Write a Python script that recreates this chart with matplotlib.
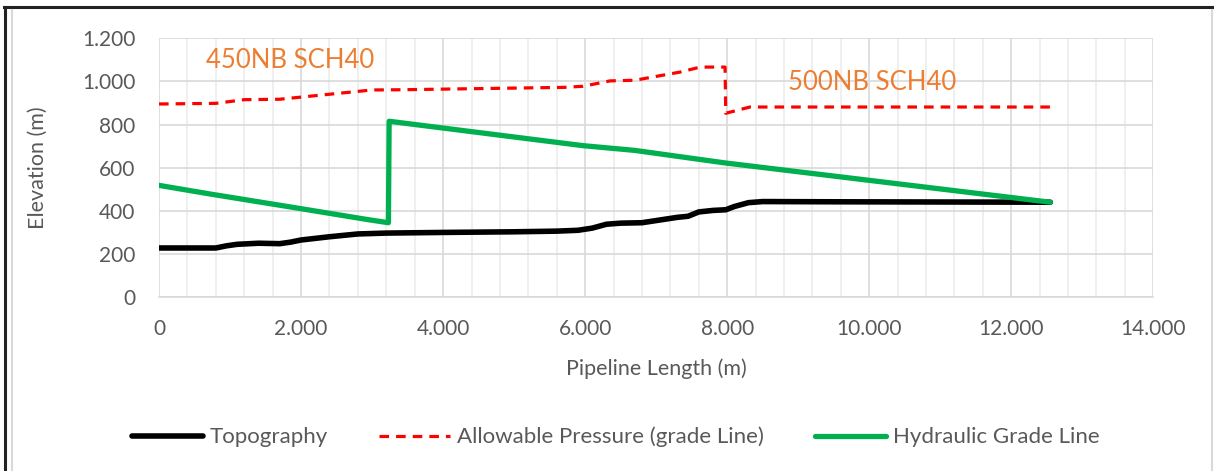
import matplotlib
matplotlib.use("Agg")
import matplotlib.pyplot as plt
from matplotlib.ticker import FuncFormatter, MultipleLocator
from matplotlib.lines import Line2D

plt.rcParams['font.family'] = ['Lato', 'DejaVu Sans']

# Topography
topo_x = [0, 800, 950, 1100, 1400, 1700, 1850, 2000, 2400, 2800, 3200, 4000, 5000, 5600, 5900,
          6100, 6300, 6500, 6800, 7000, 7300, 7450, 7600, 7800, 7980, 8100, 8300, 8500, 9500, 12550]
topo_y = [228, 228, 238, 245, 250, 248, 255, 265, 280, 293, 297, 300, 303, 306, 310,
          320, 338, 343, 345, 355, 370, 375, 395, 402, 405, 420, 438, 443, 442, 440]

# Allowable pressure (grade line)
allow_x = [0, 800, 1200, 1700, 3000, 3410, 5700, 5970, 6350, 6700, 7340, 7620, 7970, 7980, 8320, 12550]
allow_y = [895, 898, 915, 917, 960, 961, 972, 977, 1002, 1005, 1043, 1066, 1066, 852, 881, 881]

# Hydraulic grade line
hgl_x = [0, 720, 1700, 2000, 2930, 3230, 3240, 5970, 6700, 7970, 12550]
hgl_y = [518, 478, 426, 410, 360, 345, 815, 702, 680, 622, 440]

tick_fmt = FuncFormatter(lambda v, p: "{:,.0f}".format(v).replace(",", "."))
grey = "#595959"

fig = plt.figure(figsize=(12.14, 4.71), dpi=100)
ax = fig.add_axes([0.131, 0.369, 0.819, 0.550])

ax.plot(topo_x, topo_y, color="black", lw=4, label="Topography", solid_capstyle="round")
ax.plot(allow_x, allow_y, color="#ff0000", lw=2.3, ls=(0, (3, 2.2)), label="Allowable Pressure (grade Line)")
ax.plot(hgl_x, hgl_y, color="#00b050", lw=3.8, label="Hydraulic Grade Line", solid_capstyle="round")

ax.set_xlim(0, 14000)
ax.set_ylim(0, 1200)
ax.xaxis.set_major_locator(MultipleLocator(2000))
ax.xaxis.set_minor_locator(MultipleLocator(400))
ax.yaxis.set_major_locator(MultipleLocator(200))
ax.xaxis.set_major_formatter(tick_fmt)
ax.yaxis.set_major_formatter(tick_fmt)
ax.grid(True, which="major", axis="both", color="#d9d9d9", lw=1.2)
ax.grid(True, which="minor", axis="x", color="#ececec", lw=1.2)
ax.set_axisbelow(True)
for s in ["top", "right", "left"]:
    ax.spines[s].set_visible(False)
ax.spines["bottom"].set_color("#d9d9d9")
ax.spines["bottom"].set_linewidth(1.2)
ax.tick_params(which="both", length=0, labelsize=15, colors=grey)
ax.tick_params(axis="y", pad=17)
ax.tick_params(axis="x", pad=16)

ax.set_xlabel("Pipeline Length (m)", fontsize=15.5, color=grey)
ax.set_ylabel("Elevation (m)", fontsize=15.5, color=grey)
ax.xaxis.set_label_coords(0.5, -0.235)
ax.yaxis.set_label_coords(-0.112, 0.5)

ax.text(1845, 1097, "450NB SCH40", color="#ed7d31", fontsize=18.5, ha="center", va="center")
ax.text(10040, 995, "500NB SCH40", color="#ed7d31", fontsize=18.5, ha="center", va="center")

fig.legend(loc="center", bbox_to_anchor=(0.507, 0.072), ncol=3, frameon=False,
           fontsize=16, handlelength=3.2, handletextpad=0.3, columnspacing=2.3,
           labelcolor=grey)

# chart frame
W, H = 1214, 471
fig.add_artist(Line2D([4 / W, 1], [1 - 7 / H, 1 - 7 / H], color="#222222", lw=2.2))
fig.add_artist(Line2D([5 / W, 5 / W], [0, 1 - 7 / H], color="#222222", lw=2.2))
fig.add_artist(Line2D([11.5 / W, 11.5 / W], [0, 1 - 10 / H], color="#d9d9d9", lw=1.5))
fig.add_artist(Line2D([1212 / W, 1212 / W], [0, 1 - 10 / H], color="#d9d9d9", lw=1.5))

fig.savefig("out.png", dpi=100)
